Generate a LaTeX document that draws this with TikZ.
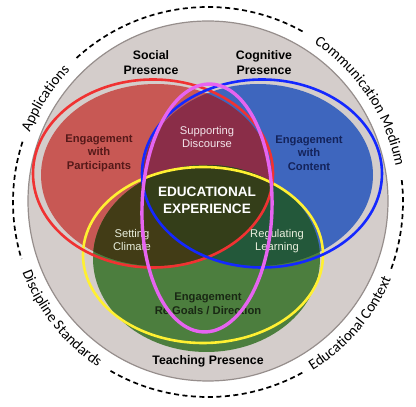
\documentclass[tikz,border=0pt]{standalone}
\usepackage{fontspec}
\setmainfont{Liberation Sans}
\newfontfamily\curvefont{Carlito}
\usetikzlibrary{decorations.text}
\definecolor{grayfill}{RGB}{212,205,203}
\definecolor{grayedge}{RGB}{150,142,140}
\definecolor{redfill}{RGB}{200,88,84}
\definecolor{bluefill}{RGB}{62,102,190}
\definecolor{maroon}{RGB}{138,45,72}
\definecolor{greenfill}{RGB}{76,126,62}
\definecolor{olive}{RGB}{66,60,22}
\definecolor{dkgreen}{RGB}{35,88,58}
\definecolor{centerc}{RGB}{52,62,25}
\definecolor{redline}{RGB}{240,50,50}
\definecolor{blueline}{RGB}{20,40,255}
\definecolor{yellowline}{RGB}{255,240,50}
\definecolor{magline}{RGB}{230,100,240}
\definecolor{partc}{RGB}{85,25,25}
\definecolor{contc}{RGB}{20,35,90}
\definecolor{goalc}{RGB}{25,40,20}
\definecolor{pinkwhite}{RGB}{242,228,234}
\definecolor{greenwhite}{RGB}{232,238,220}
\tikzset{
  outerlabel/.style={align=center, font=\bfseries\fontsize{12.3}{15}\selectfont, text=black, inner sep=0pt},
  innerbold/.style={align=center, font=\bfseries\fontsize{11.2}{13.6}\selectfont, inner sep=0pt},
  innerlight/.style={align=center, font=\fontsize{11.2}{13.6}\selectfont, inner sep=0pt},
  dashring/.style={dash pattern=on 5pt off 3.5pt, line width=1.7pt, black},
  ringtext/.style={decorate, decoration={text along path, text align=center}},
}
\begin{document}
\begin{tikzpicture}[x=1pt,y=1pt]
\useasboundingbox (0,0) rectangle (416,407);
\coordinate (O) at (208,205);
% gray disc
\fill[grayfill] (208,206) circle[radius=180];
\draw[grayedge, line width=1.2pt] (208,206) circle[radius=180];
% base fills
\fill[redfill] (156,232) ellipse[x radius=115, y radius=91];
\fill[bluefill] (258,232) ellipse[x radius=115, y radius=91];
\begin{scope}
  \clip (156,232) ellipse[x radius=115, y radius=91];
  \fill[maroon] (258,232) ellipse[x radius=115, y radius=91];
\end{scope}
\fill[greenfill] (206.5,148.5) ellipse[x radius=113.5, y radius=93.5];
\begin{scope}
  \clip (206.5,148.5) ellipse[x radius=113.5, y radius=93.5];
  \fill[olive] (156,232) ellipse[x radius=115, y radius=91];
\end{scope}
\begin{scope}
  \clip (206.5,148.5) ellipse[x radius=113.5, y radius=93.5];
  \fill[dkgreen] (258,232) ellipse[x radius=115, y radius=91];
\end{scope}
\begin{scope}
  \clip (206.5,148.5) ellipse[x radius=113.5, y radius=93.5];
  \clip (156,232) ellipse[x radius=115, y radius=91];
  \fill[centerc] (258,232) ellipse[x radius=115, y radius=91];
\end{scope}
% outlines
\draw[yellowline, line width=2.6pt] (203,152) ellipse[x radius=120, y radius=88];
\draw[redline, line width=2.6pt] (153,233.5) ellipse[x radius=120, y radius=94];
\draw[blueline, line width=2.6pt] (262,233.5) ellipse[x radius=120, y radius=94];
% labels
\node[outerlabel] (social) at (151,344) {Social\\Presence};
\node[outerlabel] (cognitive) at (264,344) {Cognitive\\Presence};
\node[outerlabel] (teaching) at (208,46) {Teaching Presence};
\node[innerbold, text=partc] (participants) at (99,254) {Engagement\\with\\Participants};
\node[innerbold, text=contc] (content) at (309,254) {Engagement\\with\\Content};
\node[innerbold, text=goalc] (goals) at (208,103) {Engagement\\Re Goals / Direction};
\node[innerlight, text=pinkwhite] (discourse) at (207,270) {Supporting\\Discourse};
\node[innerlight, text=greenwhite] (climate) at (132,167) {Setting\\Climate};
\node[innerlight, text=greenwhite] (regulating) at (277,166) {Regulating\\Learning};
\node[align=center, font=\bfseries\fontsize{13.6}{17}\selectfont, text=white, inner sep=0pt] (edu) at (207,207) {EDUCATIONAL\\EXPERIENCE};
% magenta ellipse on top
\draw[magline, line width=3.4pt, rotate around={-1.6:(207,199)}] (207,199) ellipse[x radius=65, y radius=124];
% dashed ring segments
\draw[dashring] (O) ++(61:195) arc[start angle=61, end angle=133, radius=195];
\draw[dashring] (O) ++(162:195) arc[start angle=162, end angle=197, radius=195];
\draw[dashring] (O) ++(240:195) arc[start angle=240, end angle=299, radius=195];
\draw[dashring] (O) ++(340:195) arc[start angle=340, end angle=366.5, radius=195];
% ring texts
\path[ringtext, decoration={text={|\curvefont\fontsize{15}{15}\selectfont|Applications}}]
  (O) ++(165:191) arc[start angle=165, end angle=130, radius=191];
\path[ringtext, decoration={text={|\curvefont\fontsize{15}{15}\selectfont|Communication Medium}}]
  (O) ++(64:191) arc[start angle=64, end angle=3, radius=191];
\path[ringtext, decoration={text={|\curvefont\fontsize{15}{15}\selectfont|Discipline Standards}}]
  (O) ++(194:198.5) arc[start angle=194, end angle=243, radius=198.5];
\path[ringtext, decoration={text={|\curvefont\fontsize{15}{15}\selectfont|Educational Context}}]
  (O) ++(296:198.5) arc[start angle=296, end angle=343, radius=198.5];
\end{tikzpicture}
\end{document}
